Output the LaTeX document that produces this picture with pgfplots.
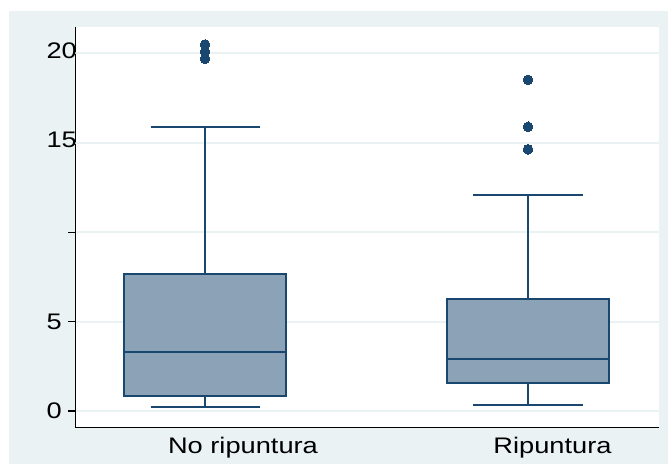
\documentclass[border=0pt]{standalone}
\usepackage{pgfplots}
\pgfplotsset{compat=1.18}
\usepgfplotslibrary{statistics}
\usepackage{fontspec}
\setmainfont{Liberation Sans}[FakeStretch=1.21]
\definecolor{sline}{RGB}{26,71,111}
\definecolor{sfill}{RGB}{140,163,183}
\definecolor{sbg}{RGB}{234,242,243}
\begin{document}
\begin{tikzpicture}
\useasboundingbox (0,0) rectangle (668bp,464bp);
\fill[white] (0,0) rectangle (668bp,464bp);
\fill[sbg] (9bp,0) rectangle (668bp,453bp);
\begin{axis}[
 at={(75bp,37bp)}, anchor=south west,
 scale only axis, width=584bp, height=400bp,
 xmin=0.5975, xmax=2.4056, ymin=-0.895, ymax=21.48,
 axis background/.style={fill=white},
 axis x line*=bottom, axis y line*=left,
 axis line style={black, line width=1bp, -},
 xtick={1.1176,2.0758}, xticklabels={No ripuntura, Ripuntura},
 x tick style={draw=none},
 xticklabel style={anchor=north, inner sep=0pt, yshift=-3bp},
 ytick={0,5,10}, yticklabels={0,5,{}},
 y tick style={black, line width=1.2bp},
 major tick length=7bp, tick align=outside,
 yticklabel style={anchor=east, inner sep=0pt, xshift=-6bp},
 ymajorgrids, grid style={sbg, line width=2bp},
 extra y ticks={15,20}, extra y tick labels={15,20},
 extra y tick style={major tick length=0pt, yticklabel style={xshift=8bp, yshift=3bp}},
 ticklabel style={font=\fontsize{22.5bp}{27bp}\selectfont},
 /pgf/number format/assume math mode=true,
 boxplot/draw direction=y,
 boxplot/every box/.style={draw=sline, fill=sfill, line width=2bp},
 boxplot/every whisker/.style={draw=sline, line width=2bp},
 boxplot/every median/.style={draw=sline, line width=2bp},
 clip=false,
]
\addplot+[boxplot prepared={lower whisker=0.24, lower quartile=0.84, median=3.30, upper quartile=7.68, upper whisker=15.9, draw position=1, box extend=0.5, whisker extend=0.3375},
 draw=sline, fill=sfill, line width=2bp, solid, mark=*, mark size=4.8bp, mark options={fill=sline, draw=sline, line width=0pt}]
 coordinates {(0,19.7) (0,20.1) (0,20.5)};
\addplot+[boxplot prepared={lower whisker=0.34, lower quartile=1.55, median=2.89, upper quartile=6.25, upper whisker=12.09, draw position=2, box extend=0.5, whisker extend=0.3375},
 draw=sline, fill=sfill, line width=2bp, solid, mark=*, mark size=4.8bp, mark options={fill=sline, draw=sline, line width=0pt}]
 coordinates {(0,14.64) (0,15.9) (0,18.52)};
\end{axis}
\end{tikzpicture}
\end{document}
